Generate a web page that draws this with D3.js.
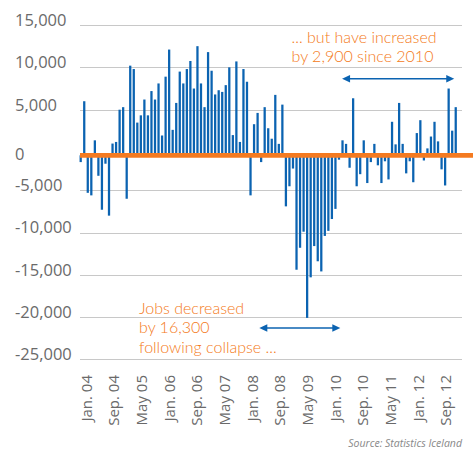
<!DOCTYPE html>
<html><head><meta charset="utf-8">
<script src="https://cdn.jsdelivr.net/npm/d3@7"></script>
<style>body{margin:0;background:#fff;} svg{display:block;}</style>
</head><body>
<svg id="c" width="473" height="452"></svg>
<script>
// ---------- data ----------
const months = d3.timeMonth.range(new Date(2004, 0, 1), new Date(2012, 11, 1)); // Jan 2004 .. Nov 2012
const jobChange = [
  -1500, 6000, -5300, -5600, 1200, -3200, -7300, -1700, -8000, 800, 1000, 5000,
  5300, -6000, 10200, 9800, 3400, 4300, 6200, 4300, 7200, 6200, 8100, 1800,
  8900, 12100, 2500, 5800, 9500, 8100, 9800, 10750, 7500, 12500, 8100, 5300,
  11800, 9600, 6800, 7300, 7100, 7900, 10000, 1850, 10700, 1000, 9800, 8300,
  -5600, 3200, 4600, -1500, 5300, 2700, 1400, 6750, 760, 5600, -6900, -4500,
  -2300, -14400, -11800, -9900, -20100, -15300, -11600, -13400, -14600, -10400, -9800, -8400,
  -7200, -1200, 1200, 760, -2200, 6350, -4500, -3000, 1200, -4100, -1500, 760,
  -1900, -4100, -1400, -3650, 3500, 700, 5800, 760, -2900, -1400, -4000, 2100,
  3700, -1300, 200, 1670, 3500, 1070, -2400, -4400, 7500, 2400, 5300
];
const yTicks = [15000, 10000, 5000, 0, -5000, -10000, -15000, -20000, -25000];
const xTickLabels = ["Jan. 04", "Sep. 04", "May 05", "Jan. 06", "Sep. 06", "May 07", "Jan. 08",
  "Sep. 08", "May 09", "Jan. 10", "Sep. 10", "May 11", "Jan. 12", "Sep. 12"];
const xTickIndex = [0, 8, 16, 24, 32, 40, 48, 56, 64, 72, 80, 88, 96, 104];
const noteUp = ["... but have increased", "by 2,900 since 2010"];
const noteDown = ["Jobs decreased", "by 16,300", "following collapse ..."];
// annotation arrows: [startIndex, endIndex, value level]
const arrowUp = [74.2, 105.9, 8650];
const arrowDown = [50.8, 73.7, -21300];

// ---------- chart ----------
const svg = d3.select("#c");
const W = 473, H = 452;
const blue = "#0b63b1", orange = "#f47a20", grid = "#c8c8c8", txt = "#6a6a6a";

const x = d3.scaleBand().domain(d3.range(months.length))
  .range([78.93, 457.5]).paddingInner(0.36).paddingOuter(0.18);
const y = d3.scaleLinear().domain([-25000, -5000, 5000, 15000]).range([359.3, 190.3, 109.7, 25]);
const labelX = d3.scaleLinear().domain([0, 104]).range([86.3, 445.8]);

const baseY = y(0) + 5.3;   // centre of the orange zero line

// gridlines
svg.append("g").selectAll("line").data(yTicks.filter(d => d !== 0)).join("line")
  .attr("x1", 80).attr("x2", 462)
  .attr("y1", d => Math.round(y(d)) + 0.5).attr("y2", d => Math.round(y(d)) + 0.5)
  .attr("stroke", grid).attr("stroke-width", 1);

// y labels
svg.append("g").selectAll("text").data(yTicks).join("text")
  .attr("x", 15)
  .attr("y", d => d === 0 ? baseY + 4.5 : y(d) + 0.8)
  .attr("font-family", "'Open Sans', sans-serif").attr("font-size", 16.5)
  .attr("fill", txt)
  .text(d => d3.format(",")(d).replace("−", "-"));

// bars
svg.append("g").selectAll("rect").data(jobChange).join("rect")
  .attr("x", (d, i) => x(i))
  .attr("width", x.bandwidth())
  .attr("y", d => Math.min(y(d), baseY))
  .attr("height", d => Math.abs(baseY - y(d)))
  .attr("fill", blue);

// zero line
svg.append("line").attr("x1", 80).attr("x2", W)
  .attr("y1", baseY).attr("y2", baseY)
  .attr("stroke", orange).attr("stroke-width", 4.8);

// x labels
svg.append("g").selectAll("text").data(xTickLabels).join("text")
  .attr("transform", (d, i) => `translate(${labelX(xTickIndex[i])},375) rotate(-90)`)
  .attr("text-anchor", "end").attr("dy", "0.36em")
  .attr("font-family", "'Open Sans', sans-serif").attr("font-size", 15)
  .attr("fill", txt)
  .text(d => d);

// annotations
function arrow(a) {
  const x1 = x(Math.floor(a[0])) + (a[0] % 1) * x.step();
  const x2 = x(Math.floor(a[1])) + (a[1] % 1) * x.step();
  const yy = y(a[2]);
  const g = svg.append("g").attr("fill", blue);
  g.append("line").attr("x1", x1 + 4).attr("x2", x2 - 4).attr("y1", yy).attr("y2", yy)
    .attr("stroke", blue).attr("stroke-width", 1.6);
  g.append("path").attr("d", `M${x1},${yy}L${x1 + 8},${yy - 3.8}L${x1 + 8},${yy + 3.8}Z`);
  g.append("path").attr("d", `M${x2},${yy}L${x2 - 8},${yy - 3.8}L${x2 - 8},${yy + 3.8}Z`);
}
arrow(arrowUp);
arrow(arrowDown);

svg.append("g").selectAll("text").data(noteUp).join("text")
  .attr("x", 291.5).attr("y", (d, i) => 43 + i * 18.5)
  .attr("font-family", "Lato, sans-serif").attr("font-size", 16).attr("font-weight", 300)
  .attr("fill", orange).text(d => d);

svg.append("g").selectAll("text").data(noteDown).join("text")
  .attr("x", 139).attr("y", (d, i) => 313.5 + i * 19.5)
  .attr("font-family", "Lato, sans-serif").attr("font-size", 16).attr("font-weight", 300)
  .attr("fill", orange).text(d => d);

svg.append("text").attr("x", 462).attr("y", 447)
  .attr("text-anchor", "end").attr("font-style", "italic")
  .attr("font-family", "'Open Sans', sans-serif").attr("font-size", 10.5)
  .attr("fill", "#888").text("Source: Statistics Iceland");
</script>
</body></html>
